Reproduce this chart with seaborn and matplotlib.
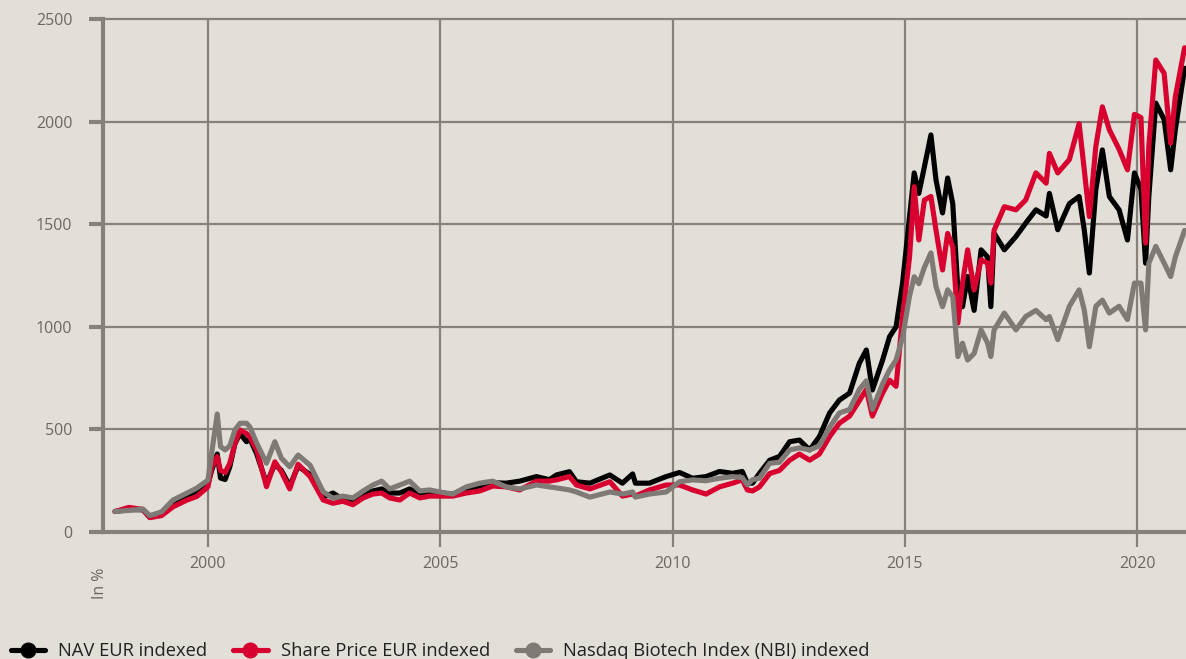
import pandas as pd
import matplotlib.pyplot as plt
from matplotlib.lines import Line2D
import seaborn as sns

# Decimal years
years = [1998.0, 1998.3, 1998.6, 1998.75, 1999.0, 1999.25, 1999.55, 1999.76,
         2000.0, 2000.08, 2000.2, 2000.27, 2000.37, 2000.47, 2000.58, 2000.69,
         2000.83, 2000.9, 2001.05, 2001.26, 2001.44, 2001.58, 2001.76, 2001.94,
         2002.2, 2002.48, 2002.69, 2002.9, 2003.12, 2003.34, 2003.55, 2003.74,
         2003.91, 2004.13, 2004.34, 2004.56, 2004.77, 2005.0, 2005.27, 2005.56,
         2005.85, 2006.13, 2006.42, 2006.71, 2007.07, 2007.35, 2007.5, 2007.78,
         2007.93, 2008.22, 2008.65, 2008.92, 2009.14, 2009.2, 2009.5, 2009.86,
         2010.15, 2010.43, 2010.72, 2011.01, 2011.29, 2011.5, 2011.61, 2011.72,
         2011.87, 2012.09, 2012.3, 2012.52, 2012.73, 2012.95, 2013.16, 2013.38,
         2013.59, 2013.81, 2014.02, 2014.17, 2014.3, 2014.52, 2014.67, 2014.81,
         2014.95, 2015.1, 2015.2, 2015.3, 2015.42, 2015.56, 2015.67, 2015.81,
         2015.92, 2016.03, 2016.14, 2016.24, 2016.35, 2016.49, 2016.64, 2016.78,
         2016.85, 2016.92, 2017.14, 2017.39, 2017.6, 2017.82, 2018.04, 2018.11,
         2018.29, 2018.54, 2018.75, 2018.86, 2018.97, 2019.11, 2019.25, 2019.4,
         2019.61, 2019.79, 2019.94, 2020.08, 2020.18, 2020.25, 2020.4, 2020.58,
         2020.72, 2020.82, 2021.02]

nav = [100, 110, 108, 72, 88, 135, 170, 190,
       235, 300, 380, 263, 256, 318, 430, 480,
       440, 455, 380, 237, 330, 300, 225, 320,
       280, 170, 190, 160, 150, 190, 200, 210,
       190, 190, 210, 185, 195, 190, 185, 210,
       225, 240, 238, 248, 270, 255, 278, 294,
       245, 238, 278, 238, 283, 238, 238, 270,
       290, 262, 270, 295, 286, 295, 238, 238,
       286, 350, 368, 440, 448, 400, 465, 580,
       643, 677, 823, 887, 692, 838, 952, 1000,
       1213, 1537, 1750, 1650, 1780, 1935, 1715, 1555,
       1725, 1600, 1180, 1098, 1245, 1080, 1375, 1340,
       1098, 1456, 1375, 1440, 1505, 1570, 1540, 1650,
       1473, 1600, 1635, 1473, 1262, 1670, 1862, 1635,
       1570, 1423, 1750, 1670, 1310, 1635, 2090, 2010,
       1765, 1960, 2260]

share = [100, 120, 110, 70, 80, 123, 156, 173,
         220, 318, 367, 300, 290, 335, 430, 497,
         480, 463, 400, 221, 342, 293, 210, 330,
         270, 156, 140, 150, 133, 166, 185, 190,
         166, 156, 190, 166, 175, 175, 175, 190,
         200, 224, 220, 205, 248, 248, 254, 270,
         229, 210, 245, 175, 185, 175, 205, 229,
         229, 205, 185, 220, 238, 254, 205, 200,
         220, 285, 300, 350, 380, 350, 380, 465,
         530, 565, 640, 695, 565, 677, 740, 710,
         1050, 1340, 1683, 1423, 1618, 1635, 1470, 1277,
         1455, 1390, 1018, 1213, 1375, 1180, 1327, 1310,
         1213, 1470, 1585, 1570, 1618, 1750, 1700, 1845,
         1750, 1815, 1990, 1765, 1537, 1880, 2072, 1960,
         1865, 1765, 2035, 2020, 1408, 1880, 2300, 2235,
         1895, 2120, 2360]

nbi = [100, 105, 112, 80, 98, 156, 190, 214,
       253, 385, 575, 416, 400, 420, 497, 530,
       530, 513, 433, 335, 440, 360, 318, 375,
       325, 196, 165, 175, 166, 200, 229, 248,
       210, 229, 248, 200, 205, 195, 185, 220,
       238, 248, 220, 210, 229, 220, 215, 205,
       195, 170, 195, 185, 195, 170, 185, 195,
       245, 254, 250, 262, 270, 265, 230, 255,
       262, 335, 340, 400, 410, 400, 420, 510,
       580, 597, 695, 737, 597, 722, 790, 838,
       950, 1150, 1244, 1210, 1290, 1360, 1195, 1098,
       1180, 1147, 855, 920, 838, 870, 985, 920,
       855, 985, 1067, 985, 1050, 1080, 1035, 1050,
       938, 1100, 1180, 1083, 903, 1100, 1130, 1067,
       1100, 1035, 1213, 1213, 985, 1310, 1392, 1310,
       1245, 1340, 1470]

labels = ['NAV EUR indexed', 'Share Price EUR indexed', 'Nasdaq Biotech Index (NBI) indexed']
colors = ['#000000', '#d7002f', '#7f7a75']
x_ticks = [2000, 2005, 2010, 2015, 2020]
y_ticks = [0, 500, 1000, 1500, 2000, 2500]

bg = '#e2ded8'
grid_col = '#87817b'
text_col = '#6b6763'

df = pd.DataFrame({
    'year': years * 3,
    'value': nav + share + nbi,
    'series': [labels[0]] * len(years) + [labels[1]] * len(years) + [labels[2]] * len(years),
})

sns.set_theme(style='white')
plt.rcParams['font.family'] = ['Open Sans', 'DejaVu Sans']

fig = plt.figure(figsize=(11.86, 6.59), dpi=100, facecolor=bg)
ax = fig.add_axes([0.0868, 0.1927, 0.9132, 0.7785])
ax.set_facecolor(bg)

sns.lineplot(data=df, x='year', y='value', hue='series', hue_order=labels,
             palette=dict(zip(labels, colors)), sort=False, linewidth=3.7,
             legend=False, ax=ax, zorder=3)

ax.set_xlim(1997.74, 2021.05)
ax.set_ylim(0, 2500)
ax.set_xticks(x_ticks)
ax.set_yticks(y_ticks)
ax.set_xlabel('')
ax.set_ylabel('')

# Grid and axes styling
for yv in y_ticks[1:]:
    ax.axhline(yv, color=grid_col, linewidth=1.6, zorder=1, clip_on=False)
for xv in x_ticks:
    ax.axvline(xv, color=grid_col, linewidth=1.6, zorder=1)

for side in ['top', 'right']:
    ax.spines[side].set_visible(False)
for side in ['left', 'bottom']:
    ax.spines[side].set_color(grid_col)
    ax.spines[side].set_linewidth(3)
    ax.spines[side].set_zorder(4)

ax.tick_params(axis='y', length=10, width=3, color=grid_col, labelcolor=text_col,
               labelsize=11.5, pad=12, left=True)
ax.tick_params(axis='x', length=11, width=1.6, color=grid_col, labelcolor=text_col,
               labelsize=11.5, pad=6, bottom=True)

fig.text(0.084, 0.115, 'In %', rotation=90, color=text_col, fontsize=11.5,
         ha='center', va='center')

handles = [Line2D([0], [0], color=c, linewidth=3.7, marker='o', markersize=10.5)
           for c in colors]
fig.legend(handles, labels, loc='lower left', bbox_to_anchor=(-0.005, -0.027),
           ncol=3, frameon=False, fontsize=13.2, handlelength=1.9,
           handletextpad=0.7, columnspacing=1.4, labelcolor='#222222')

fig.savefig('out.png', dpi=100, facecolor=bg)
